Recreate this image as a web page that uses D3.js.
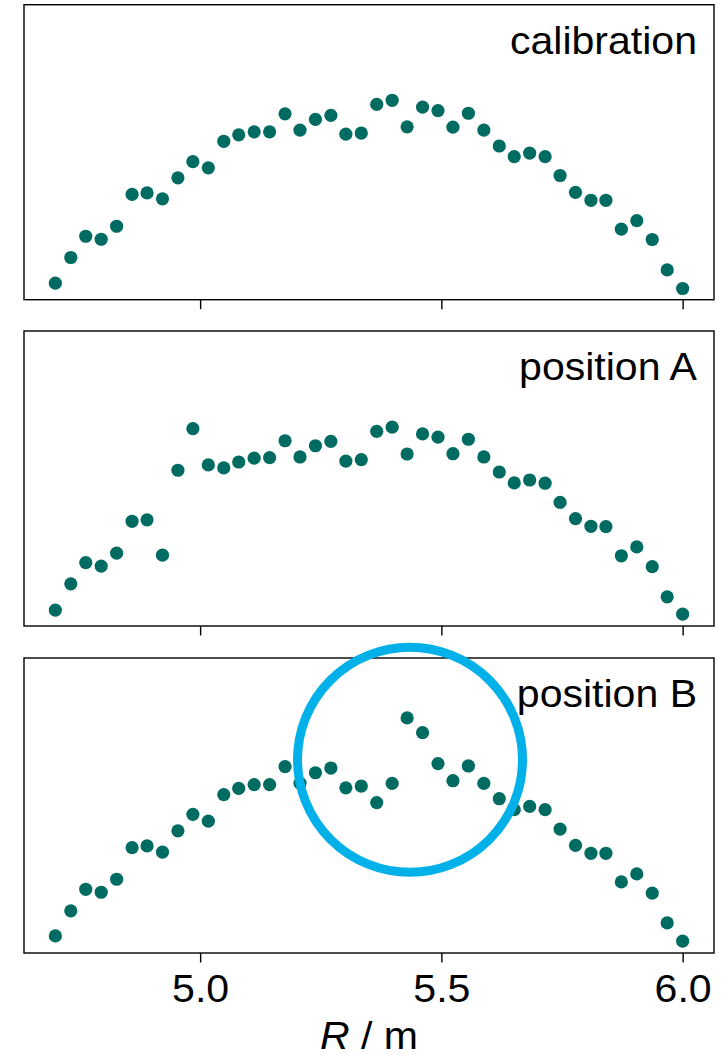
<!DOCTYPE html>
<html>
<head>
<meta charset="utf-8">
<script src="https://cdn.jsdelivr.net/npm/d3@7"></script>
<style>
  html, body { margin: 0; padding: 0; background: #fff; }
  svg { display: block; }
  text { font-family: "Liberation Sans", Arial, Helvetica, sans-serif; fill: #000; }
</style>
</head>
<body>
<svg id="chart" width="726" height="1054"></svg>
<script>
// Major radius positions of the channels (m)
const radius = [
  4.700, 4.732, 4.763, 4.795, 4.827, 4.859, 4.890, 4.922, 4.954, 4.985,
  5.017, 5.049, 5.080, 5.112, 5.144, 5.176, 5.207, 5.239, 5.271, 5.302,
  5.334, 5.366, 5.398, 5.429, 5.461, 5.493, 5.524, 5.556, 5.588, 5.620,
  5.651, 5.683, 5.715, 5.746, 5.778, 5.810, 5.841, 5.873, 5.905, 5.937,
  5.968, 6.000
];

// Profile measured during calibration (arb. units)
const calibration = [
  0.056, 0.143, 0.215, 0.205, 0.249, 0.357, 0.362, 0.342, 0.413, 0.468,
  0.447, 0.537, 0.559, 0.569, 0.569, 0.630, 0.575, 0.611, 0.625, 0.561,
  0.565, 0.662, 0.676, 0.586, 0.653, 0.641, 0.585, 0.632, 0.575, 0.521,
  0.485, 0.497, 0.485, 0.421, 0.364, 0.337, 0.337, 0.239, 0.268, 0.204,
  0.101, 0.038
];

// Profile with the probe at position A
const positionA = [
  0.054, 0.143, 0.215, 0.203, 0.247, 0.355, 0.360, 0.240, 0.528, 0.669,
  0.546, 0.536, 0.556, 0.569, 0.571, 0.628, 0.573, 0.611, 0.626, 0.559,
  0.564, 0.660, 0.674, 0.583, 0.651, 0.640, 0.584, 0.633, 0.573, 0.522,
  0.485, 0.495, 0.484, 0.419, 0.364, 0.338, 0.337, 0.238, 0.268, 0.201,
  0.099, 0.040
];

// Profile with the probe at position B
const positionB = [
  0.058, 0.143, 0.216, 0.206, 0.250, 0.357, 0.363, 0.342, 0.414, 0.470,
  0.447, 0.537, 0.558, 0.571, 0.571, 0.632, 0.576, 0.611, 0.627, 0.560,
  0.566, 0.510, 0.575, 0.797, 0.747, 0.642, 0.584, 0.634, 0.575, 0.523,
  0.486, 0.497, 0.486, 0.420, 0.365, 0.338, 0.338, 0.241, 0.268, 0.203,
  0.102, 0.040
];

const panelTitles = ["calibration", "position A", "position B"];
const xTicks = [5.0, 5.5, 6.0];
const xLabel = "R / m";

// Highlighted region in the last panel: centre in data units
const highlight = { panel: 2, r: 5.435, v: 0.655 };

const series = [calibration, positionA, positionB];

const svg = d3.select("#chart");
const left = 24, right = 714;
const panelTop = [4.7, 331, 658];
const panelH = 295;
const fontPx = 38, stretch = 1.08;

const x = d3.scaleLinear().domain([4.635, 6.065]).range([left, right]);
const markColor = "#006b61";

series.forEach((vals, k) => {
  const top = panelTop[k];
  const y = d3.scaleLinear().domain([0, 1]).range([top + panelH, top]);
  const g = svg.append("g");

  // ticks below each panel
  const axis = d3.axisBottom(x).tickValues(xTicks).tickSize(9.5).tickSizeOuter(0)
    .tickFormat(k === series.length - 1 ? d3.format(".1f") : () => "");
  const ag = g.append("g").attr("transform", `translate(0,${top + panelH})`).call(axis);
  ag.select(".domain").remove();
  ag.selectAll(".tick line").attr("stroke", "#000").attr("stroke-width", 1.4);
  ag.selectAll(".tick text")
    .attr("y", 0).attr("dy", 0)
    .attr("transform", `translate(0,48.5) scale(${stretch},1)`)
    .style("font-size", fontPx + "px")
    .style("font-family", '"Liberation Sans", Arial, sans-serif')
    .attr("fill", "#000");

  // points
  g.append("g").selectAll("circle")
    .data(vals.map((v, i) => [radius[i], v]))
    .join("circle")
    .attr("cx", d => x(d[0]))
    .attr("cy", d => y(d[1]))
    .attr("r", 6.6)
    .attr("fill", markColor);

  // frame
  g.append("rect")
    .attr("x", left).attr("y", top)
    .attr("width", right - left).attr("height", panelH)
    .attr("fill", "none").attr("stroke", "#000").attr("stroke-width", 1.4);

  // panel title
  g.append("text")
    .attr("transform", `translate(697,${top + 49}) scale(${stretch},1)`)
    .attr("text-anchor", "end")
    .style("font-size", fontPx + "px")
    .text(panelTitles[k]);

  if (k === highlight.panel) {
    svg.append("circle")
      .attr("cx", x(highlight.r))
      .attr("cy", y(highlight.v))
      .attr("r", 112.5)
      .attr("fill", "none")
      .attr("stroke", "#00b0e8")
      .attr("stroke-width", 9);
  }
});

// x-axis label
const lab = svg.append("text")
  .attr("transform", `translate(${(left + right) / 2},1049) scale(${stretch},1)`)
  .attr("text-anchor", "middle")
  .style("font-size", fontPx + "px");
lab.append("tspan").style("font-style", "italic").text(xLabel.split(" ")[0]);
lab.append("tspan").text(" " + xLabel.split(" ").slice(1).join(" "));
</script>
</body>
</html>
